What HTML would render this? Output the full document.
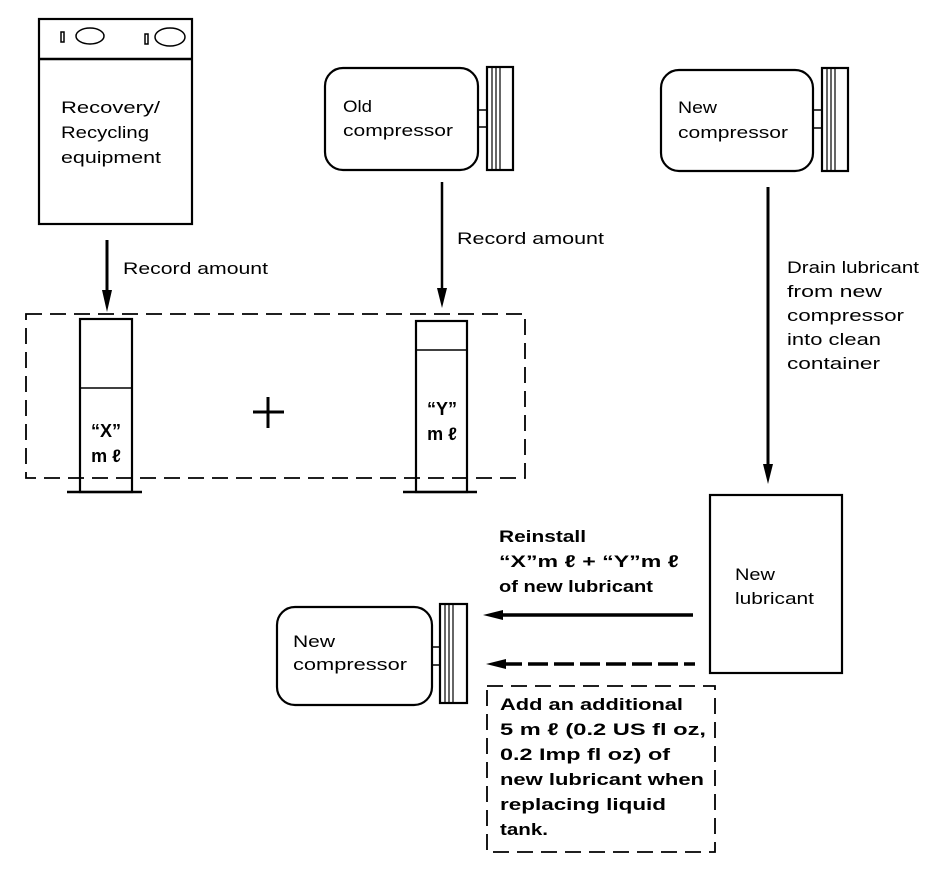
<!DOCTYPE html>
<html><head><meta charset="utf-8"><style>
html,body{margin:0;padding:0;background:#fff;}
svg{display:block;}
text{font-family:"Liberation Sans","DejaVu Sans",sans-serif;fill:#000;}
.n{font-size:17px;}
.b{font-size:17px;font-weight:bold;}
.c{font-size:18px;font-weight:600;}
</style></head><body>
<svg width="944" height="870" viewBox="0 0 944 870" xmlns="http://www.w3.org/2000/svg">
<g fill="none" stroke="#000" stroke-width="2.2">
  <rect x="39" y="19" width="153" height="205"/>
  <line x1="39" y1="59" x2="192" y2="59" stroke-width="2.5"/>
  <rect x="61" y="32" width="3" height="10" stroke-width="1.5"/>
  <ellipse cx="90" cy="36" rx="14" ry="8" stroke-width="1.5"/>
  <rect x="145" y="34" width="3" height="10" stroke-width="1.5"/>
  <ellipse cx="170" cy="37" rx="15" ry="9" stroke-width="1.5"/>

  <rect x="325" y="68" width="153" height="102" rx="18"/>
  <rect x="487" y="67" width="26" height="103"/>
  <line x1="492" y1="67" x2="492" y2="170" stroke-width="1.2"/>
  <line x1="496" y1="67" x2="496" y2="170" stroke-width="1.2"/>
  <line x1="500" y1="67" x2="500" y2="170" stroke-width="1.2"/>
  <line x1="478" y1="110" x2="487" y2="110" stroke-width="1.5"/>
  <line x1="478" y1="127" x2="487" y2="127" stroke-width="1.5"/>

  <rect x="661" y="70" width="152" height="101" rx="18"/>
  <rect x="822" y="68" width="26" height="103"/>
  <line x1="827" y1="68" x2="827" y2="171" stroke-width="1.2"/>
  <line x1="831" y1="68" x2="831" y2="171" stroke-width="1.2"/>
  <line x1="835" y1="68" x2="835" y2="171" stroke-width="1.2"/>
  <line x1="813" y1="110" x2="822" y2="110" stroke-width="1.5"/>
  <line x1="813" y1="128" x2="822" y2="128" stroke-width="1.5"/>

  <rect x="26" y="314" width="499" height="164" stroke-width="1.8" stroke-dasharray="16,8"/>

  <rect x="80" y="319" width="52" height="173"/>
  <line x1="80" y1="388" x2="132" y2="388" stroke-width="1.5"/>
  <line x1="67" y1="492" x2="142" y2="492" stroke-width="2.5"/>
  <line x1="253" y1="412" x2="284" y2="412" stroke-width="3"/>
  <line x1="268" y1="397" x2="268" y2="428" stroke-width="3"/>
  <rect x="416" y="321" width="51" height="171"/>
  <line x1="416" y1="350" x2="467" y2="350" stroke-width="1.5"/>
  <line x1="403" y1="492" x2="477" y2="492" stroke-width="2.5"/>

  <rect x="710" y="495" width="132" height="178"/>

  <rect x="277" y="607" width="155" height="98" rx="18"/>
  <rect x="440" y="604" width="27" height="99"/>
  <line x1="445" y1="604" x2="445" y2="703" stroke-width="1.2"/>
  <line x1="449" y1="604" x2="449" y2="703" stroke-width="1.2"/>
  <line x1="453" y1="604" x2="453" y2="703" stroke-width="1.2"/>
  <line x1="432" y1="647" x2="440" y2="647" stroke-width="1.5"/>
  <line x1="432" y1="665" x2="440" y2="665" stroke-width="1.5"/>

  <rect x="487" y="686" width="228" height="166" stroke-width="1.8" stroke-dasharray="16,8"/>

  <line x1="107" y1="240" x2="107" y2="292" stroke-width="3"/>
  <line x1="442" y1="182" x2="442" y2="290" stroke-width="2.5"/>
  <line x1="768" y1="187" x2="768" y2="466" stroke-width="3"/>
  <line x1="500" y1="615" x2="693" y2="615" stroke-width="3.5"/>
  <line x1="502" y1="664" x2="695" y2="664" stroke-width="3.5" stroke-dasharray="20,6"/>
</g>
<g fill="#000">
  <polygon points="102,290 112,290 107,312"/>
  <polygon points="437,288 447,288 442,308"/>
  <polygon points="763,464 773,464 768,484"/>
  <polygon points="503,610 503,620 483,615"/>
  <polygon points="506,659 506,669 486,664"/>
</g>

<text class="n" x="61" y="113" textLength="99" lengthAdjust="spacingAndGlyphs">Recovery/</text>
<text class="n" x="61" y="138" textLength="88" lengthAdjust="spacingAndGlyphs">Recycling</text>
<text class="n" x="61" y="163" textLength="100" lengthAdjust="spacingAndGlyphs">equipment</text>

<text class="n" x="343" y="112" textLength="29" lengthAdjust="spacingAndGlyphs">Old</text>
<text class="n" x="343" y="136" textLength="110" lengthAdjust="spacingAndGlyphs">compressor</text>

<text class="n" x="678" y="113" textLength="39" lengthAdjust="spacingAndGlyphs">New</text>
<text class="n" x="678" y="138" textLength="110" lengthAdjust="spacingAndGlyphs">compressor</text>

<text class="n" x="123" y="274" textLength="145" lengthAdjust="spacingAndGlyphs">Record amount</text>
<text class="n" x="457" y="244" textLength="147" lengthAdjust="spacingAndGlyphs">Record amount</text>

<text class="n" x="787" y="273" textLength="132" lengthAdjust="spacingAndGlyphs">Drain lubricant</text>
<text class="n" x="787" y="297" textLength="95" lengthAdjust="spacingAndGlyphs">from new</text>
<text class="n" x="787" y="321" textLength="117" lengthAdjust="spacingAndGlyphs">compressor</text>
<text class="n" x="787" y="345" textLength="94" lengthAdjust="spacingAndGlyphs">into clean</text>
<text class="n" x="787" y="369" textLength="93" lengthAdjust="spacingAndGlyphs">container</text>

<text class="c" x="106" y="437" text-anchor="middle">“X”</text>
<text class="c" x="106" y="462" text-anchor="middle">m ℓ</text>
<text class="c" x="442" y="415" text-anchor="middle">“Y”</text>
<text class="c" x="442" y="440" text-anchor="middle">m ℓ</text>

<text class="n" x="735" y="580" textLength="40" lengthAdjust="spacingAndGlyphs">New</text>
<text class="n" x="735" y="604" textLength="79" lengthAdjust="spacingAndGlyphs">lubricant</text>

<text class="b" x="499" y="542" textLength="87" lengthAdjust="spacingAndGlyphs">Reinstall</text>
<text class="b" x="499" y="567" textLength="180" lengthAdjust="spacingAndGlyphs">“X”m ℓ  +  “Y”m ℓ</text>
<text class="b" x="499" y="592" textLength="154" lengthAdjust="spacingAndGlyphs">of new lubricant</text>

<text class="n" x="293" y="647" textLength="42" lengthAdjust="spacingAndGlyphs">New</text>
<text class="n" x="293" y="670" textLength="114" lengthAdjust="spacingAndGlyphs">compressor</text>

<text class="b" x="500" y="710" textLength="183" lengthAdjust="spacingAndGlyphs">Add an additional</text>
<text class="b" x="500" y="735" textLength="206" lengthAdjust="spacingAndGlyphs">5 m ℓ  (0.2 US fl oz,</text>
<text class="b" x="500" y="760" textLength="170" lengthAdjust="spacingAndGlyphs">0.2 Imp fl oz) of</text>
<text class="b" x="500" y="785" textLength="204" lengthAdjust="spacingAndGlyphs">new lubricant when</text>
<text class="b" x="500" y="810" textLength="166" lengthAdjust="spacingAndGlyphs">replacing liquid</text>
<text class="b" x="500" y="835" textLength="48" lengthAdjust="spacingAndGlyphs">tank.</text>
</svg>
</body></html>
